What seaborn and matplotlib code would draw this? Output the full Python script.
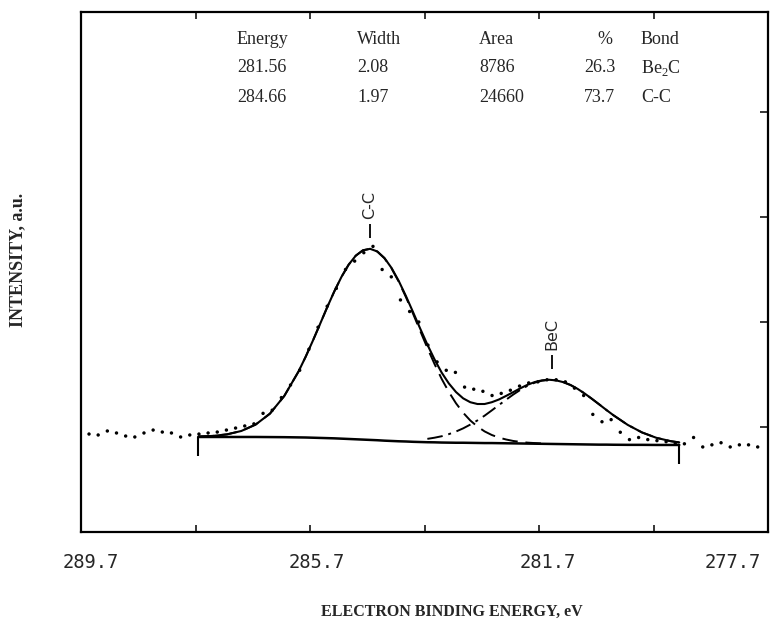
import matplotlib
matplotlib.use("Agg")
import matplotlib.pyplot as plt
import matplotlib.transforms as mtransforms
import pandas as pd
import seaborn as sns

# ---------------- data ----------------
# energies of the fitted range (eV)
fit_energy = [287.65, 287.40, 287.15, 286.90, 286.65, 286.40, 286.15, 285.90,
              285.775, 285.65, 285.525, 285.40, 285.275, 285.15, 285.025,
              284.90, 284.775, 284.65, 284.525, 284.40, 284.275, 284.15,
              284.025, 283.90, 283.775, 283.65, 283.525, 283.40, 283.275,
              283.15, 283.025, 282.90, 282.775, 282.65, 282.525, 282.40,
              282.275, 282.15, 282.025, 281.90, 281.775, 281.65, 281.525,
              281.40, 281.275, 281.15, 281.025, 280.90, 280.775, 280.65,
              280.525, 280.40, 280.15, 279.90, 279.65, 279.40, 279.25]
# Shirley background
background = [0.905, 0.905, 0.905, 0.905, 0.905, 0.904, 0.903, 0.901, 0.900,
              0.898, 0.896, 0.894, 0.892, 0.889, 0.886, 0.883, 0.880, 0.877,
              0.874, 0.870, 0.867, 0.864, 0.862, 0.859, 0.857, 0.855, 0.854,
              0.852, 0.851, 0.850, 0.850, 0.849, 0.848, 0.847, 0.847, 0.846,
              0.845, 0.844, 0.843, 0.842, 0.841, 0.840, 0.839, 0.838, 0.837,
              0.836, 0.835, 0.834, 0.833, 0.832, 0.832, 0.831, 0.830, 0.830,
              0.829, 0.829, 0.829]
# C-C component (dashed): the first points of the fit range
cc_line = [0.909, 0.915, 0.930, 0.962, 1.023, 1.127, 1.295, 1.529, 1.670,
           1.822, 1.980, 2.140, 2.292, 2.430, 2.546, 2.632, 2.683, 2.697,
           2.671, 2.607, 2.510, 2.384, 2.238, 2.079, 1.915, 1.753, 1.600,
           1.458, 1.334, 1.226, 1.136, 1.062, 1.004, 0.958, 0.924, 0.899,
           0.881, 0.867, 0.858, 0.851, 0.847, 0.843]
# Be2C component (dash-dot): the last points of the fit range
bec_line = [0.887, 0.898, 0.912, 0.932, 0.957, 0.987, 1.023, 1.063, 1.108,
            1.158, 1.209, 1.260, 1.309, 1.354, 1.393, 1.422, 1.441, 1.449,
            1.444, 1.427, 1.400, 1.363, 1.318, 1.268, 1.216, 1.163, 1.112,
            1.020, 0.948, 0.897, 0.865, 0.853]
# total fitted envelope (solid)
envelope = [0.909, 0.915, 0.930, 0.962, 1.023, 1.127, 1.295, 1.529, 1.670,
            1.822, 1.980, 2.140, 2.292, 2.430, 2.546, 2.632, 2.683, 2.697,
            2.672, 2.610, 2.514, 2.391, 2.248, 2.094, 1.937, 1.785, 1.644,
            1.518, 1.415, 1.333, 1.273, 1.236, 1.219, 1.219, 1.236, 1.262,
            1.296, 1.332, 1.369, 1.402, 1.428, 1.444, 1.450, 1.444, 1.427,
            1.400, 1.363, 1.318, 1.268, 1.216, 1.163, 1.112, 1.020, 0.948,
            0.897, 0.865, 0.853]

# measured spectrum (dots)
raw_energy = [289.56, 289.40, 289.24, 289.08, 288.92, 288.76, 288.60, 288.44,
              288.28, 288.12, 287.96, 287.80, 287.64, 287.48, 287.32, 287.16,
              287.00, 286.84, 286.68, 286.52, 286.36, 286.20, 286.04, 285.88,
              285.72, 285.56, 285.40, 285.24, 285.08, 284.92, 284.76, 284.60,
              284.44, 284.28, 284.12, 283.96, 283.80, 283.64, 283.48, 283.32,
              283.16, 283.00, 282.84, 282.68, 282.52, 282.36, 282.20, 282.04,
              281.88, 281.72, 281.56, 281.40, 281.24, 281.08, 280.92, 280.76,
              280.60, 280.44, 280.28, 280.12, 279.96, 279.80, 279.64, 279.48,
              279.32, 279.16, 279.00, 278.84, 278.68, 278.52, 278.36, 278.20,
              278.04, 277.88]
raw_counts = [0.933, 0.924, 0.962, 0.943, 0.914, 0.905, 0.943, 0.971, 0.952,
              0.943, 0.905, 0.924, 0.933, 0.943, 0.952, 0.971, 0.990, 1.010,
              1.030, 1.130, 1.160, 1.280, 1.400, 1.540, 1.740, 1.950, 2.150,
              2.320, 2.500, 2.580, 2.660, 2.720, 2.500, 2.430, 2.210, 2.100,
              2.000, 1.780, 1.620, 1.540, 1.520, 1.380, 1.360, 1.340, 1.300,
              1.320, 1.350, 1.390, 1.420, 1.430, 1.450, 1.450, 1.430, 1.370,
              1.300, 1.120, 1.050, 1.070, 0.950, 0.880, 0.900, 0.880, 0.870,
              0.860, 0.840, 0.840, 0.900, 0.810, 0.830, 0.850, 0.810, 0.830,
              0.830, 0.810]

# peak markers
peak_labels = ["C-C", "BeC"]
peak_energy = [284.66, 281.47]
peak_top = [2.697, 1.449]

# fit table
table_header = ["Energy", "Width", "Area", "%", "Bond"]
table_rows = [["281.56", "2.08", "8786", "26.3", r"Be$_\mathregular{2}$C"],
              ["284.66", "1.97", "24660", "73.7", "C-C"]]

x_ticks = [289.7, 287.7, 285.7, 283.7, 281.7, 279.7, 277.7]
x_ticklabels = ["289.7", "", "285.7", "", "281.7", "", "277.7"]
y_ticks = [1, 2, 3, 4]

# ---------------- figure ----------------
W, H = 770, 629
sns.set_style("white")
plt.rcParams["font.family"] = ["Liberation Serif", "DejaVu Serif"]
plt.rcParams["mathtext.fontset"] = "custom"
plt.rcParams["mathtext.rm"] = "Liberation Serif"

fig = plt.figure(figsize=(W / 100, H / 100), dpi=100)
ax = fig.add_axes([81 / W, 1 - 532 / H, (768 - 81) / W, (532 - 12) / H])

n_cc = len(cc_line)
n_bec = len(bec_line)
df_fit = pd.DataFrame({"E": fit_energy, "bg": background, "env": envelope})
df_cc = pd.DataFrame({"E": fit_energy[:n_cc], "y": cc_line})
df_bec = pd.DataFrame({"E": fit_energy[-n_bec:], "y": bec_line})
df_raw = pd.DataFrame({"E": raw_energy, "y": raw_counts})

sns.scatterplot(data=df_raw, x="E", y="y", ax=ax, color="black", s=6,
                marker="o", edgecolor="none", legend=False)
sns.lineplot(data=df_fit, x="E", y="bg", ax=ax, color="black", lw=1.8,
             estimator=None, sort=False)
sns.lineplot(data=df_fit, x="E", y="env", ax=ax, color="black", lw=1.5,
             estimator=None, sort=False)
sns.lineplot(data=df_cc, x="E", y="y", ax=ax, color="black", lw=1.4,
             estimator=None, sort=False, linestyle=(0, (8, 4)))
sns.lineplot(data=df_bec, x="E", y="y", ax=ax, color="black", lw=1.4,
             estimator=None, sort=False, linestyle=(0, (8, 3, 1.5, 3)))

# fit range end markers
ax.vlines([fit_energy[0], fit_energy[-1]],
          [background[0] - 0.18, background[-1] - 0.18],
          [background[0], background[-1]], color="black", lw=1.5)

# peak markers
for lab, e, top in zip(peak_labels, peak_energy, peak_top):
    ax.vlines(e, top + 0.1, top + 0.24, color="black", lw=1.3)
    ax.text(e, top + 0.28, lab, rotation=90, ha="center", va="bottom",
            fontsize=11.5, family="DejaVu Sans")

ax.set_xlim(289.7, 277.7)
ax.set_ylim(0, 520 / 105)
ax.set_xticks(x_ticks)
ax.set_xticklabels(x_ticklabels, family="DejaVu Sans Mono", fontsize=13.5)
ax.set_yticks(y_ticks)
ax.set_yticklabels([])
ax.tick_params(axis="x", direction="in", top=True, bottom=True, length=5,
               width=1.3, pad=15)
ax.tick_params(axis="y", direction="in", left=False, right=True, length=6,
               width=1.3, labelleft=False)
for sp in ax.spines.values():
    sp.set_linewidth(1.6)
    sp.set_color("black")

# shift tick labels to their printed positions
shifts = [10, 0, 7, 0, 9, 0, -35]
for lab, dx in zip(ax.get_xticklabels(), shifts):
    off = mtransforms.ScaledTranslation(dx / 100, 0, fig.dpi_scale_trans)
    lab.set_transform(lab.get_transform() + off)

ax.set_xlabel("")
ax.set_ylabel("")
fig.text(452 / W, 1 - 612 / H, "ELECTRON BINDING ENERGY, eV", ha="center",
         va="center", fontsize=11.5, fontweight="bold")
fig.text(18 / W, 1 - 260 / H, "INTENSITY, a.u.", ha="center", va="center",
         rotation=90, fontsize=13, fontweight="bold")

# table
col_x = [237, 357, 479, 584, 641]
row_y = [40, 68, 97]
for cx, t in zip(col_x, table_header):
    xx = cx + 13 if t == "%" else cx
    fig.text(xx / W, 1 - row_y[0] / H, t, ha="left", va="center", fontsize=13)
for ry, row in zip(row_y[1:], table_rows):
    for cx, t in zip(col_x, row):
        fig.text(cx / W, 1 - ry / H, t, ha="left", va="center", fontsize=13)

fig.savefig("out.png", dpi=100)
